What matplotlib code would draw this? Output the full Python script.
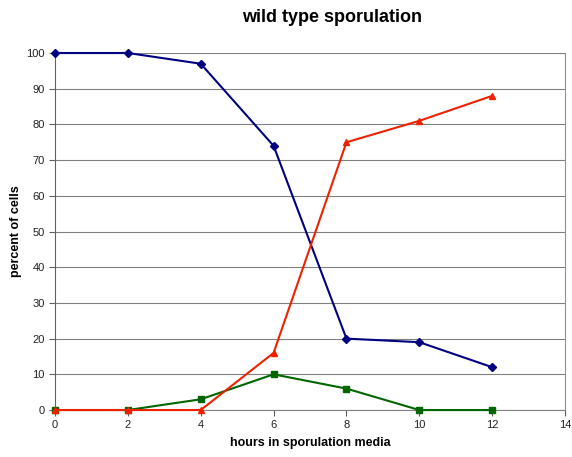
import matplotlib
matplotlib.use("Agg")
import matplotlib.pyplot as plt

hours = [0, 2, 4, 6, 8, 10, 12]
blue_vals = [100, 100, 97, 74, 20, 19, 12]
red_vals = [0, 0, 0, 16, 75, 81, 88]
green_vals = [0, 0, 3, 10, 6, 0, 0]

plt.rcParams['font.family'] = ['Liberation Sans', 'DejaVu Sans']

fig = plt.figure(figsize=(5.72, 4.57), dpi=100)
ax = fig.add_axes([0.0962, 0.1028, 0.8916, 0.7812])

ax.plot(hours, blue_vals, color='#000080', marker='D', markersize=4.5, linewidth=1.5, clip_on=False, zorder=3)
ax.plot(hours, green_vals, color='#006600', marker='s', markersize=4.5, linewidth=1.5, clip_on=False, zorder=3)
ax.plot(hours, red_vals, color='#ee2200', marker='^', markersize=5, linewidth=1.5, clip_on=False, zorder=3)

ax.set_xlim(0, 14)
ax.set_ylim(0, 100)
ax.set_xticks(range(0, 15, 2))
ax.set_yticks(range(0, 101, 10))
ax.yaxis.grid(True, color='#808080', linewidth=0.8)
ax.set_axisbelow(True)

ax.spines['top'].set_visible(False)
ax.spines['right'].set_color('#909090')
ax.spines['left'].set_color('#606060')
ax.spines['bottom'].set_color('#808080')
ax.tick_params(axis='both', labelsize=8, colors='#606060', labelcolor='#222222', length=4, width=0.8, direction='out')

ax.set_xlabel('hours in sporulation media', fontsize=9, fontweight='bold', labelpad=5)
ax.set_ylabel('percent of cells', fontsize=9, fontweight='bold', labelpad=14)
ax.yaxis.set_label_coords(-0.065, 0.5)
fig.text(0.58, 0.962, 'wild type sporulation', ha='center', va='center', fontsize=13, fontweight='bold')

fig.savefig('out.png', dpi=100)
